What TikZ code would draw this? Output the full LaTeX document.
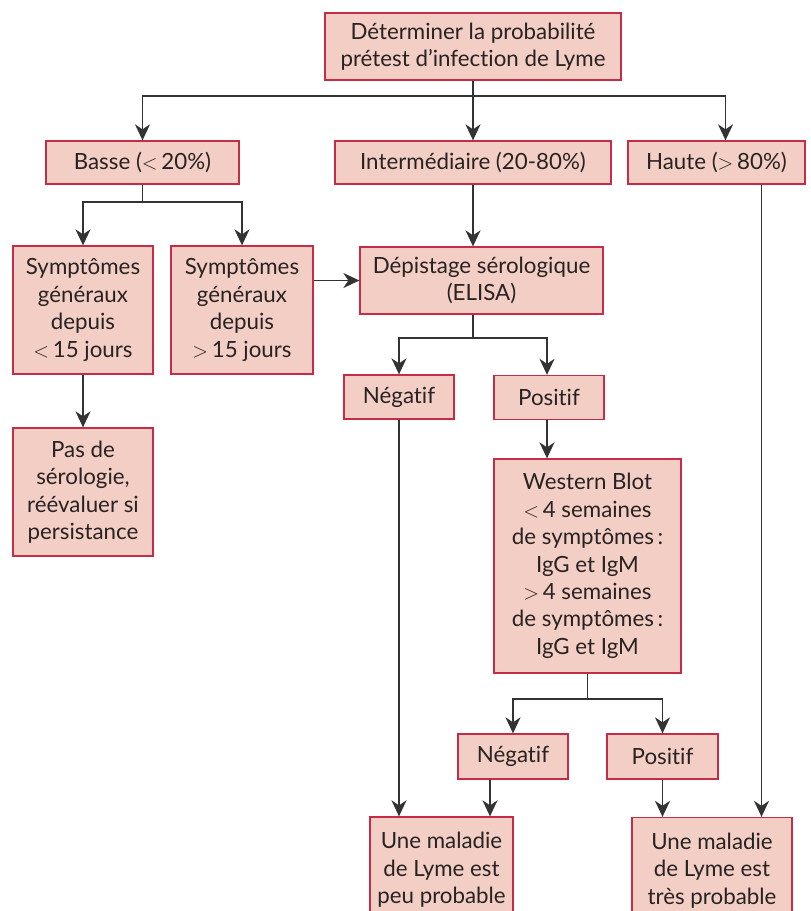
\documentclass[tikz,border=0pt]{standalone}
\usepackage{fontspec}
\setmainfont{Lato}[Ligatures=NoCommon]
\usetikzlibrary{arrows.meta}
\definecolor{rose}{RGB}{243,206,196}
\definecolor{bordure}{RGB}{196,44,72}
\definecolor{texte}{RGB}{40,34,34}
\newcommand{\moinsque}{\(<\)\,}
\newcommand{\plusque}{\(>\)\,}
\tikzset{
  boite/.style={draw=bordure,fill=rose,line width=1.3bp,inner sep=0pt,align=center,
    text=texte,font=\fontsize{22.4}{27.5}\selectfont},
  trait/.style={draw=black!80,line width=1.9bp},
  fleche/.style={trait,-{Stealth[length=16bp,width=15bp,inset=5bp]}}
}
\begin{document}
\begin{tikzpicture}[x=1bp,y=-1bp]
			\useasboundingbox (0,0) rectangle (811,911);
			%boites%
			\node[boite,minimum width=296bp,minimum height=67bp] (pretest) at (473,46.5) {Déterminer la probabilité\\prétest d’infection de Lyme};
			\node[boite,minimum width=193bp,minimum height=43bp] (basse) at (142.5,162.5) {Basse (\moinsque20\%)};
			\node[boite,minimum width=276bp,minimum height=43bp] (inter) at (473,162.5) {Intermédiaire (20-80\%)};
			\node[boite,minimum width=177bp,minimum height=43bp] (haute) at (716.5,162.5) {Haute (\plusque80\%)};
			\node[boite,minimum width=140bp,minimum height=128bp] (sympt1) at (83,310) {Symptômes\\généraux\\depuis\\\moinsque15 jours};
			\node[boite,minimum width=142bp,minimum height=128bp] (sympt2) at (242,310) {Symptômes\\généraux\\depuis\\\plusque15 jours};
			\node[boite,minimum width=140bp,minimum height=128bp] (pasde) at (83,492) {Pas de\\sérologie,\\réévaluer si\\persistance};
			\node[boite,minimum width=243bp,minimum height=67bp] (depist) at (481.5,280.5) {Dépistage sérologique\\(ELISA)};
			\node[boite,minimum width=110bp,minimum height=44bp] (neg1) at (399,397) {Négatif};
			\node[boite,minimum width=110bp,minimum height=44bp] (pos1) at (549,397.5) {Positif};
			\node[boite,minimum width=187bp,minimum height=214bp] (western) at (587.5,566) {Western Blot\\\moinsque4 semaines\\de symptômes\,:\\IgG et IgM\\\plusque4 semaines\\de symptômes\,:\\IgG et IgM};
			\node[boite,minimum width=110bp,minimum height=45bp] (neg2) at (513,756.5) {Négatif};
			\node[boite,minimum width=111bp,minimum height=45bp] (pos2) at (662.5,756.5) {Positif};
			\node[boite,minimum width=143bp,minimum height=106bp] (peu) at (441.5,870) {Une maladie\\de Lyme est\\peu probable};
			\node[boite,minimum width=160bp,minimum height=106bp] (tres) at (712,870.5) {Une maladie\\de Lyme est\\très probable};
			%jonctions%
			\coordinate (j1) at (473,96);
			\coordinate (j2) at (142.5,202);
			\coordinate (j3) at (473,338);
			\coordinate (j4) at (587.5,699);
			%fleches%
			\draw[trait] (pretest) -- (j1);
			\draw[fleche] (j1) -| (basse);
			\draw[fleche] (j1) -- (inter);
			\draw[fleche] (j1) -| ([xshift=9bp]haute.north);
			\draw[trait] (basse) -- (j2);
			\draw[fleche] (j2) -| (sympt1);
			\draw[fleche] (j2) -| (sympt2);
			\draw[fleche] (sympt1) -- (pasde);
			\draw[fleche] (sympt2.east |- depist) -- (depist);
			\draw[fleche] (inter) -- (inter.south |- depist.north);
			\draw[trait] (depist.south -| j3) -- (j3);
			\draw[fleche] (j3) -| (neg1);
			\draw[fleche] (j3) -| ([xshift=-2bp]pos1.north);
			\draw[fleche] ([xshift=-2bp]pos1.south) -- ([xshift=-2bp]pos1.south |- western.north);
			\draw[trait] (western) -- (j4);
			\draw[fleche] (j4) -| (neg2);
			\draw[fleche] (j4) -| (pos2);
			\draw[fleche] (neg1) -- (neg1 |- peu.north);
			\draw[fleche] ([xshift=-23bp]neg2.south) -- ([xshift=-23bp]neg2.south |- peu.north);
			\draw[fleche] (pos2) -- (pos2 |- tres.north);
			\draw[fleche] ([xshift=45bp]haute.south) -- ([xshift=45bp]haute.south |- tres.north);
\end{tikzpicture}
\end{document}
